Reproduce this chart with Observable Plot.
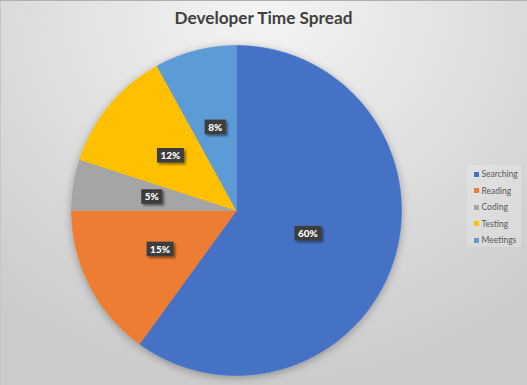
<!DOCTYPE html>
<html><head><meta charset="utf-8">
<script src="https://cdn.jsdelivr.net/npm/d3@7"></script>
<script src="https://cdn.jsdelivr.net/npm/@observablehq/plot@0.6"></script>
<style>
html,body{margin:0;padding:0;background:#fff;}
#chart{position:relative;width:527px;height:385px;overflow:hidden;
 background: radial-gradient(ellipse 80% 100% at 50% 2%, #f4f4f4 0%, #e4e4e4 40%, #d5d5d5 75%, #cbcbcb 100%);
 box-shadow: inset 0 1px 0 #b0b0b0, inset 1px 0 0 #c6c6c6;
 font-family: Lato, sans-serif;}
#title{position:absolute;left:0;width:527px;top:7px;text-align:center;font-weight:700;font-size:17.2px;color:#404040;}
#legend{position:absolute;left:467px;top:165px;width:54px;height:82px;background:rgba(255,255,255,0.2);}
.lrow{position:absolute;left:7px;height:12px;display:flex;align-items:center;font-size:8.5px;color:#595959;white-space:nowrap;}
.lsw{width:5px;height:5px;margin-right:2.5px;flex:none;}
#chart svg{position:absolute;left:0;top:0;}
</style></head>
<body>
<div id="chart"><div id="title">Developer Time Spread</div><div id="legend"></div></div>
<script>
const categories = ["Searching", "Reading", "Coding", "Testing", "Meetings"];
const values = [60, 15, 5, 12, 8];
const labels = ["60%", "15%", "5%", "12%", "8%"];
const colors = ["#4472C4", "#ED7D31", "#A5A5A5", "#FFC000", "#5B9BD5"];

const arcs = d3.pie().sort(null).value(d => d)(values);

const piePts = [];
arcs.forEach((a, i) => {
  const n = Math.max(2, Math.ceil((a.endAngle - a.startAngle) / 0.005));
  piePts.push({name: categories[i], x: 0, y: 0});
  for (let k = 0; k <= n; k++) {
    const t = a.startAngle + (a.endAngle - a.startAngle) * k / n;
    piePts.push({name: categories[i], x: Math.sin(t), y: Math.cos(t)});
  }
  piePts.push({name: categories[i], x: 0, y: 0});
});

const labelPts = arcs.map((a, i) => {
  const m = (a.startAngle + a.endAngle) / 2;
  const r = values[i] > 50 ? 0.455 : 0.52;
  return {label: labels[i], x: Math.sin(m) * r, y: Math.cos(m) * r};
});

const plot = Plot.plot({
  width: 527, height: 385,
  marginLeft: 71, marginRight: 126, marginTop: 45, marginBottom: 10,
  x: {domain: [-1, 1], axis: null},
  y: {domain: [-1, 1], axis: null},
  color: {domain: categories, range: colors},
  style: {background: "transparent", overflow: "visible"},
  marks: [
    Plot.line(piePts, {x: "x", y: "y", z: "name", fill: "name", stroke: "name", strokeWidth: 0.6, curve: "linear", className: "pie"}),
    Plot.text(labelPts, {x: "x", y: "y", text: "label", fill: "white", fontWeight: "900", fontSize: 10, fontFamily: "Lato", className: "slicelabel"})
  ]
});
document.getElementById("chart").appendChild(plot);

const svg = d3.select(plot);
const defs = svg.insert("defs", ":first-child");
function shadow(id, dx, dy, sd, op) {
  const f = defs.append("filter").attr("id", id).attr("x", "-30%").attr("y", "-30%").attr("width", "170%").attr("height", "170%");
  f.append("feGaussianBlur").attr("in", "SourceAlpha").attr("stdDeviation", sd).attr("result", "b");
  f.append("feOffset").attr("in", "b").attr("dx", dx).attr("dy", dy).attr("result", "o");
  f.append("feComponentTransfer").attr("in", "o").attr("result", "s")
    .append("feFuncA").attr("type", "linear").attr("slope", op);
  const m = f.append("feMerge");
  m.append("feMergeNode").attr("in", "s");
  m.append("feMergeNode").attr("in", "SourceGraphic");
}
shadow("pieShadow", 0, 2, 4, 0.3);
shadow("lblShadow", 1.5, 1.5, 1.2, 0.45);

svg.select("g.pie").attr("filter", "url(#pieShadow)");
svg.selectAll("g.slicelabel text").each(function() {
  const b = this.getBBox();
  const r = d3.select(this.parentNode).insert("rect", () => this)
    .attr("x", b.x - 3.5).attr("y", b.y - 1)
    .attr("width", b.width + 7).attr("height", b.height + 2.5)
    .attr("fill", "#3c3c3c")
    .attr("filter", "url(#lblShadow)");
  const tr = this.getAttribute("transform");
  if (tr) r.attr("transform", tr);
});

const legend = d3.select("#legend");
categories.forEach((c, i) => {
  const row = legend.append("div").attr("class", "lrow").style("top", (3 + i * 16.6) + "px");
  row.append("div").attr("class", "lsw").style("background", colors[i]);
  row.append("span").text(c);
});
</script>
</body></html>
